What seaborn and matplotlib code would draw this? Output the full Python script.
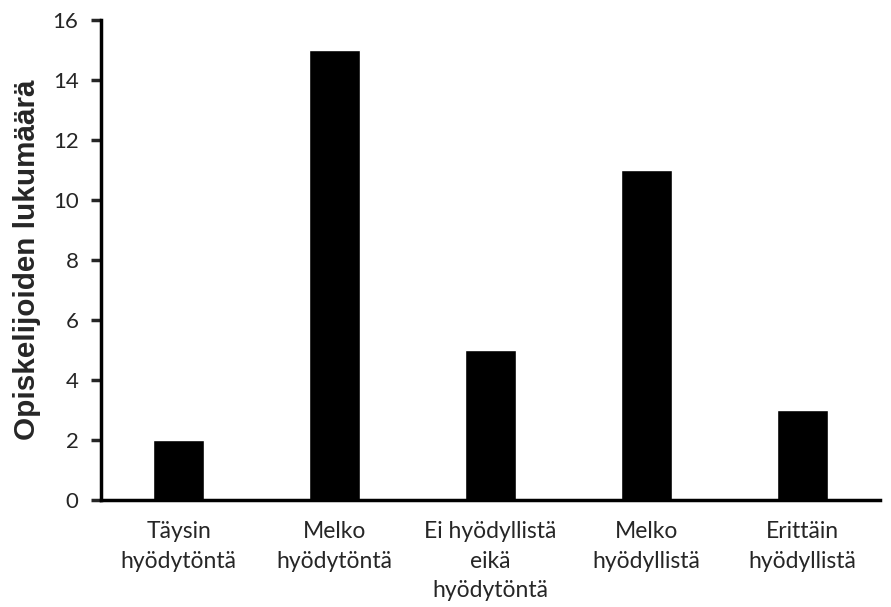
import pandas as pd
import numpy as np
import matplotlib.pyplot as plt
import seaborn as sns
from matplotlib.font_manager import FontProperties

categories = ["Täysin\nhyödytöntä", "Melko\nhyödytöntä", "Ei hyödyllistä\neikä\nhyödytöntä",
              "Melko\nhyödyllistä", "Erittäin\nhyödyllistä"]
counts = [2, 15, 5, 11, 3]
yticks = [0, 2, 4, 6, 8, 10, 12, 14, 16]

sns.set_style("white")
plt.rcParams['font.family'] = ['Lato', 'DejaVu Sans']

df = pd.DataFrame({"kategoria": categories, "lukumaara": counts})

fig = plt.figure(figsize=(8.91, 6.07), dpi=100)
ax = fig.add_axes([0.113, 0.176, 0.875, 0.791])
sns.barplot(data=df, x="kategoria", y="lukumaara", color="black", width=0.33,
            saturation=1, ax=ax)

ax.set_ylim(0, 16)
ax.set_yticks(yticks)
ax.set_xlim(-0.5, 4.5)
ax.tick_params(axis='y', direction='out', length=7, width=2.5, labelsize=16, pad=9, left=True)
ax.tick_params(axis='x', length=0, labelsize=16.5, pad=15)
for lab in ax.get_xticklabels():
    lab.set_linespacing(1.5)
ax.set_xlabel("")
ylab_font = FontProperties(family='Liberation Sans', weight='bold', size=21.3)
ax.set_ylabel("Opiskelijoiden lukumäärä", fontproperties=ylab_font, labelpad=8.5)
for s in ['top', 'right']:
    ax.spines[s].set_visible(False)
for s in ['left', 'bottom']:
    ax.spines[s].set_linewidth(2.5)
    ax.spines[s].set_color('black')

fig.savefig("out.png", dpi=100)
